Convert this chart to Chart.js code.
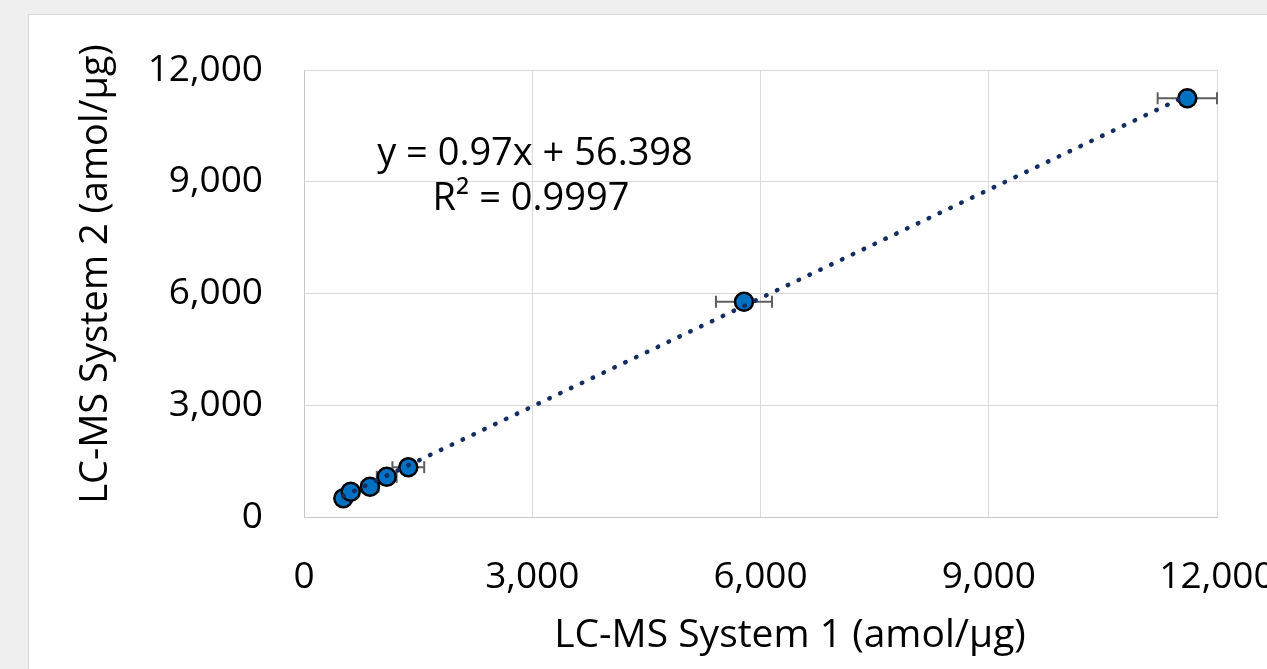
<!DOCTYPE html>
<html lang="en">
<head>
<meta charset="UTF-8">
<title>LC-MS System 1 vs System 2</title>
<style>
    body {
        margin: 0;
        background: #efefef;
        overflow: hidden;
    }

    .panel {
        position: absolute;
        left: 28px;
        top: 14px;
        width: 1300px;
        height: 700px;
        background: #fff;
        border: 1px solid #d6d6d6;
    }

    #chart {
        position: absolute;
        left: 0;
        top: 0;
    }
</style>
</head>
<body>
<div class="panel"></div>
<canvas id="chart" width="1267" height="669"></canvas>

<script src="https://cdn.jsdelivr.net/npm/chart.js@4.4.3/dist/chart.umd.min.js"></script>
<script>
    // values (amol/µg)
    const system1 = [517, 614, 867, 1087, 1371, 5783, 11610]
    const system2 = [502, 679, 814, 1083, 1334, 5780, 11240]
    const system1Err = [90, 100, 110, 130, 209, 368, 390]

    const axisTicks = [0, 3000, 6000, 9000, 12000]
    const xTitle = 'LC-MS System 1 (amol/µg)'
    const yTitle = 'LC-MS System 2 (amol/µg)'

    // linear trendline as printed on the chart
    const slope = 0.97
    const intercept = 56.398
    const eqLines = ['y = 0.97x + 56.398', 'R² = 0.9997']

    const FONT = '"Open Sans", "Noto Sans", sans-serif'

    const xMin = Math.min(...system1)
    const xMax = Math.max(...system1)
    const trend = [
        { x: xMin, y: slope * xMin + intercept },
        { x: xMax, y: slope * xMax + intercept },
    ]

    const errorBars = {
        id: 'errorBars',
        beforeDatasetsDraw(chart) {
            const { ctx, scales: { x, y } } = chart
            ctx.save()
            ctx.strokeStyle = '#5f5f5f'
            ctx.lineWidth = 2
            system1.forEach((v, i) => {
                const py = y.getPixelForValue(system2[i])
                const x0 = x.getPixelForValue(v - system1Err[i])
                const x1 = x.getPixelForValue(v + system1Err[i])
                ctx.beginPath()
                ctx.moveTo(x0, py); ctx.lineTo(x1, py)
                ctx.moveTo(x0, py - 6); ctx.lineTo(x0, py + 6)
                ctx.moveTo(x1, py - 6); ctx.lineTo(x1, py + 6)
                ctx.stroke()
            })
            ctx.restore()
        }
    }

    const labels = {
        id: 'labels',
        afterDraw(chart) {
            const { ctx } = chart
            ctx.save()
            ctx.fillStyle = '#000'
            ctx.textAlign = 'center'
            ctx.textBaseline = 'alphabetic'

            ctx.font = '38px ' + FONT
            ctx.fillText(eqLines[0], 535, 165)
            ctx.fillText(eqLines[1], 531, 210)

            ctx.font = '39px ' + FONT
            ctx.fillText(xTitle, 790, 647)

            ctx.font = '38px ' + FONT
            ctx.translate(107, 274)
            ctx.rotate(-Math.PI / 2)
            ctx.fillText(yTitle, 0, 0)
            ctx.restore()
        }
    }

    const tickFont = { family: FONT, size: 37 }

    new Chart(document.getElementById('chart'), {
        type: 'scatter',
        data: {
            datasets: [
                {
                    data: trend,
                    showLine: true,
                    pointRadius: 0,
                    borderColor: '#132c62',
                    borderWidth: 4.5,
                    borderDash: [0.5, 11.5],
                    borderCapStyle: 'round',
                    order: 0,
                },
                {
                    data: system1.map((v, i) => ({ x: v, y: system2[i] })),
                    pointRadius: 9,
                    pointBackgroundColor: '#0070c0',
                    pointBorderColor: '#000',
                    pointBorderWidth: 2.5,
                    order: 1,
                },
            ],
        },
        options: {
            responsive: false,
            animation: false,
            layout: { padding: { left: 0, right: 50, top: 70, bottom: 0 } },
            plugins: { legend: { display: false }, tooltip: { enabled: false } },
            scales: {
                x: {
                    type: 'linear',
                    min: 0,
                    max: 12000,
                    afterBuildTicks: s => { s.ticks = axisTicks.map(v => ({ value: v })) },
                    afterFit: s => { s.height = 152; s.paddingLeft = 0; s.paddingRight = 0 },
                    grid: { color: '#d9d9d9', drawTicks: false },
                    border: { color: '#c8c8c8' },
                    ticks: {
                        padding: 38,
                        maxRotation: 0,
                        color: '#000',
                        font: tickFont,
                        callback: v => v.toLocaleString('en-US'),
                    },
                },
                y: {
                    type: 'linear',
                    min: 0,
                    max: 12000,
                    afterBuildTicks: s => { s.ticks = axisTicks.map(v => ({ value: v })) },
                    afterFit: s => { s.width = 304; s.paddingTop = 0; s.paddingBottom = 0 },
                    grid: { color: '#d9d9d9', drawTicks: false },
                    border: { color: '#c8c8c8' },
                    ticks: {
                        padding: 41,
                        color: '#000',
                        font: tickFont,
                        callback: v => v.toLocaleString('en-US'),
                    },
                },
            },
        },
        plugins: [errorBars, labels],
    })
</script>
</body>
</html>
